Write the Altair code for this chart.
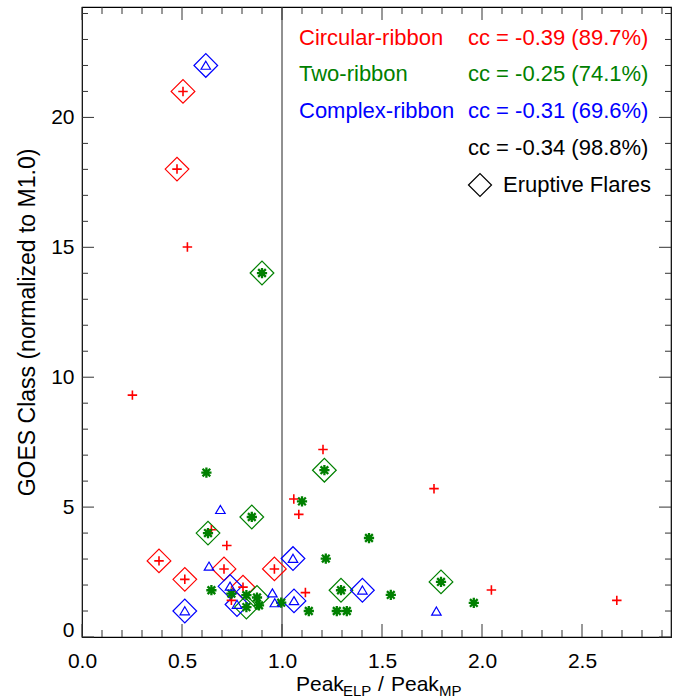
import altair as alt
import pandas as pd

# ---------------- data ----------------
# Circular-ribbon flares
circ_x = [0.505, 0.475, 0.385, 0.710, 0.962, 0.514, 0.805,
          0.252, 0.527, 0.647, 0.724, 0.747, 1.205, 1.059, 1.084, 1.760, 1.117, 2.047, 2.674]
circ_y = [21.00, 18.01, 2.93, 2.62, 2.62, 2.22, 1.92,
          9.31, 15.01, 4.13, 3.52, 1.41, 7.22, 5.31, 4.72, 5.71, 1.71, 1.81, 1.41]
circ_erupt = [1, 1, 1, 1, 1, 1, 1,
              0, 0, 0, 0, 0, 0, 0, 0, 0, 0, 0, 0]

# Two-ribbon flares
two_x = [0.900, 0.849, 0.630, 1.212, 1.795, 1.295, 0.875, 0.822,
         0.622, 0.647, 0.996, 1.100, 1.435, 1.219, 1.544, 1.959, 1.134, 1.274, 1.324, 0.747, 0.822, 0.885]
two_y = [14.01, 4.62, 4.00, 6.42, 2.12, 1.80, 1.52, 1.15,
         6.33, 1.80, 1.32, 5.22, 3.81, 3.02, 1.62, 1.31, 1.00, 1.00, 1.00, 1.67, 1.61, 1.22]
two_erupt = [1, 1, 1, 1, 1, 1, 1, 1,
             0, 0, 0, 0, 0, 0, 0, 0, 0, 0, 0, 0, 0, 0]

# Complex-ribbon flares
comp_x = [0.619, 0.740, 0.775, 0.514, 1.055, 1.060, 1.402,
          0.692, 0.635, 0.952, 0.964, 1.772]
comp_y = [22.00, 1.95, 1.25, 1.00, 3.02, 1.39, 1.80,
          4.90, 2.72, 1.69, 1.31, 0.99]
comp_erupt = [1, 1, 1, 1, 1, 1, 1,
              0, 0, 0, 0, 0]

types = ["Circular-ribbon", "Two-ribbon", "Complex-ribbon"]
colors = ["#ff0000", "#008000", "#0000ff"]
cc_texts = ["cc = -0.39 (89.7%)", "cc = -0.25 (74.1%)", "cc = -0.31 (69.6%)"]
cc_all = "cc = -0.34 (98.8%)"

x_major = [0.0, 0.5, 1.0, 1.5, 2.0, 2.5]
x_minor = [0.1, 0.2, 0.3, 0.4, 0.6, 0.7, 0.8, 0.9, 1.1, 1.2, 1.3, 1.4, 1.6, 1.7, 1.8, 1.9,
           2.1, 2.2, 2.3, 2.4, 2.6, 2.7, 2.8, 2.9]
y_major = [0, 5, 10, 15, 20]
y_minor = [1, 2, 3, 4, 6, 7, 8, 9, 11, 12, 13, 14, 16, 17, 18, 19, 21, 22, 23, 24]
divider_x = [1.0]

# ---------------- build tables ----------------
rows = []
for t, xs, ys, es in [(types[0], circ_x, circ_y, circ_erupt),
                      (types[1], two_x, two_y, two_erupt),
                      (types[2], comp_x, comp_y, comp_erupt)]:
    for a, b, e in zip(xs, ys, es):
        rows.append({"type": t, "x": a, "y": b, "eruptive": e})
df = pd.DataFrame(rows)

W, H = 589, 630
FONT = "Liberation Sans"

xs_ = alt.Scale(domain=[0, 2.945], nice=False, zero=False)
ys_ = alt.Scale(domain=[0, 24.25], nice=False, zero=False)

x_axis = alt.Axis(values=[0.0, 0.5, 1.0, 1.5, 2.0, 2.5], format=".1f", ticks=False, tickSize=0,
                  domain=False, grid=False, labelFontSize=21, labelFont=FONT, labelColor="black",
                  labelPadding=24, labelBaseline="middle", labelFlush=False, title=None)
y_axis = alt.Axis(values=[0, 5, 10, 15, 20], ticks=False, tickSize=0, domain=False, grid=False,
                  labelFontSize=21, labelFont=FONT, labelColor="black", labelPadding=8,
                  labelFlush=True, labelFlushOffset=3,
                  title="GOES Class (normalized to M1.0)", titleFont=FONT, titleFontSize=23,
                  titleFontWeight="normal", titleColor="black", titleAngle=270,
                  titleX=-55, titleY=H / 2, titleAlign="center", titleBaseline="middle")


def X(field):
    return alt.X(f"{field}:Q", scale=xs_, axis=x_axis)


def Y(field):
    return alt.Y(f"{field}:Q", scale=ys_, axis=y_axis)


layers = []

# vertical divider at ratio = 1
layers.append(alt.Chart(pd.DataFrame({"v": divider_x})).mark_rule(color="#222222", strokeWidth=1)
              .encode(x=X("v"), y=alt.value(0), y2=alt.value(H)))

# inward ticks on all four sides
for vals, ln in [(x_major, 13), (x_minor, 7)]:
    d = pd.DataFrame({"v": vals})
    layers.append(alt.Chart(d).mark_rule(color="#333333", strokeWidth=1)
                  .encode(x=X("v"), y=alt.value(H), y2=alt.value(H - ln)))
    layers.append(alt.Chart(d).mark_rule(color="#333333", strokeWidth=1)
                  .encode(x=X("v"), y=alt.value(0), y2=alt.value(ln)))
for vals, ln in [(y_major, 12), (y_minor, 6)]:
    d = pd.DataFrame({"v": vals})
    layers.append(alt.Chart(d).mark_rule(color="#333333", strokeWidth=1)
                  .encode(y=Y("v"), x=alt.value(0), x2=alt.value(ln)))
    layers.append(alt.Chart(d).mark_rule(color="#333333", strokeWidth=1)
                  .encode(y=Y("v"), x=alt.value(W), x2=alt.value(W - ln)))

plus_path = "M-1,0L1,0M0,-1L0,1"
star_path = "M-1,0L1,0M0,-1L0,1M-0.75,-0.75L0.75,0.75M-0.75,0.75L0.75,-0.75"
tri_path = "M0,-0.9L1,0.8L-1,0.8Z"
diamond_path = "M-1,0L0,-1L1,0L0,1Z"

sym = {types[0]: (plus_path, 1.6, 90), types[1]: (star_path, 2.3, 105), types[2]: (tri_path, 1.2, 90)}

# eruptive-flare diamonds
layers.append(alt.Chart(df[df.eruptive == 1]).mark_point(shape=diamond_path, filled=False, size=560,
                                                       strokeWidth=1.2, opacity=1)
              .encode(x=X("x"), y=Y("y"),
                      stroke=alt.Stroke("type:N", scale=alt.Scale(domain=types, range=colors), legend=None)))

for t, c in zip(types, colors):
    shp, sw, sz = sym[t]
    layers.append(alt.Chart(df[df.type == t]).mark_point(shape=shp, filled=False, size=sz,
                                                       strokeWidth=sw, stroke=c, opacity=1)
                  .encode(x=X("x"), y=Y("y")))

# legend block (text annotations)
row_y = [30.7, 67.0, 103.7, 140.7, 178.0]
for i, (t, c) in enumerate(zip(types, colors)):
    layers.append(alt.Chart(pd.DataFrame({"t": [t]})).mark_text(
        align="left", baseline="middle", font=FONT, fontSize=22, color=c)
        .encode(text="t:N", x=alt.value(217), y=alt.value(row_y[i])))
    layers.append(alt.Chart(pd.DataFrame({"t": [cc_texts[i]]})).mark_text(
        align="left", baseline="middle", font=FONT, fontSize=22, color=c)
        .encode(text="t:N", x=alt.value(386), y=alt.value(row_y[i])))
layers.append(alt.Chart(pd.DataFrame({"t": [cc_all]})).mark_text(
    align="left", baseline="middle", font=FONT, fontSize=22, color="black")
    .encode(text="t:N", x=alt.value(386), y=alt.value(row_y[3])))
layers.append(alt.Chart(pd.DataFrame({"t": ["Eruptive Flares"]})).mark_point(
    shape=diamond_path, filled=False, size=530, strokeWidth=1.2, stroke="black", opacity=1)
    .encode(x=alt.value(398), y=alt.value(row_y[4])))
layers.append(alt.Chart(pd.DataFrame({"t": ["Eruptive Flares"]})).mark_text(
    align="left", baseline="middle", font=FONT, fontSize=22, color="black")
    .encode(text="t:N", x=alt.value(421), y=alt.value(row_y[4])))

# x-axis title with subscripts
title_parts = [("Peak", 214, 21, 684), ("ELP", 261, 15, 689), ("/", 296, 21, 684),
               ("Peak", 309, 21, 684), ("MP", 357, 15, 689)]
for txt, px, fs, py in title_parts:
    layers.append(alt.Chart(pd.DataFrame({"t": [txt]})).mark_text(
        align="left", baseline="alphabetic", font=FONT, fontSize=fs, color="black", clip=False)
        .encode(text="t:N", x=alt.value(px), y=alt.value(py)))

chart = alt.layer(*layers).properties(
    width=W, height=H, autosize="none",
    padding={"left": 82, "top": 7, "right": 23, "bottom": 61},
    background="white",
).configure_view(stroke="black", strokeWidth=1.2)

chart.save("out.html", embed_options={"renderer": "svg", "actions": False})
